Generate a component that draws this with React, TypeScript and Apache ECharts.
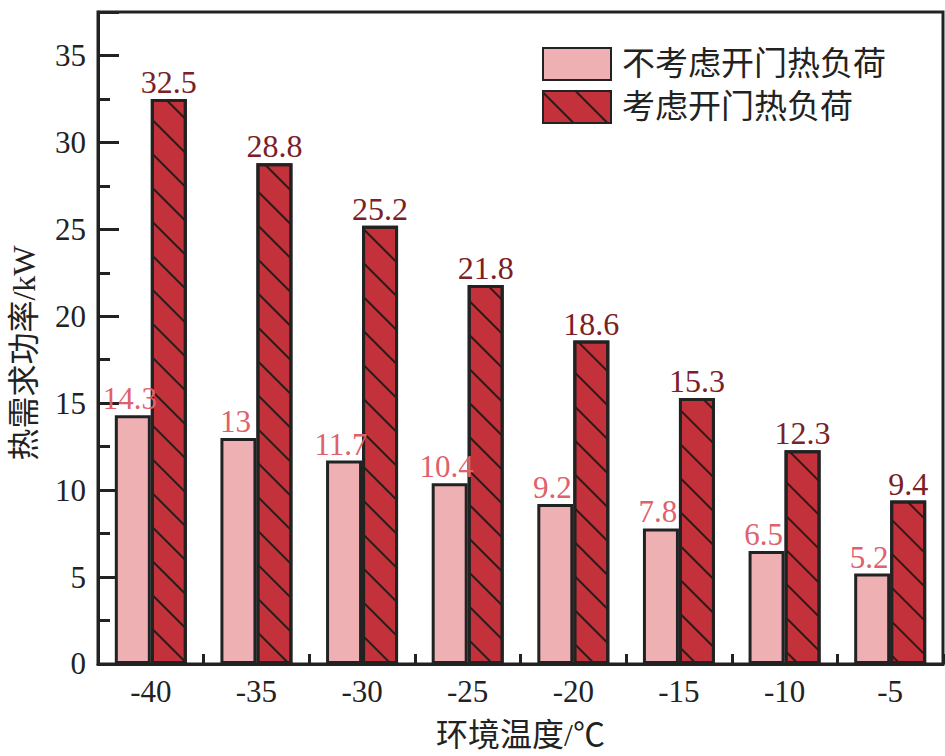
import React, { useEffect, useRef } from "react";
import * as echarts from "echarts";

const categories = ["-40", "-35", "-30", "-25", "-20", "-15", "-10", "-5"];
const withoutDoor = [14.3, 13, 11.7, 10.4, 9.2, 7.8, 6.5, 5.2];
const withDoor = [32.5, 28.8, 25.2, 21.8, 18.6, 15.3, 12.3, 9.4];
const seriesNames = ["不考虑开门热负荷", "考虑开门热负荷"];
const xName = "环境温度/℃";
const yName = "热需求功率/kW";

const FONT = "Liberation Serif, serif, Noto Sans CJK SC";
const AXIS = "#222222";

export default function App() {
  const ref = useRef<HTMLDivElement>(null);
  useEffect(() => {
    if (!ref.current) return;
    const chart = echarts.init(ref.current, null, { renderer: "svg" });
    chart.setOption({
      animation: false,
      backgroundColor: "#ffffff",
      grid: {
        left: 93,
        right: 2,
        top: 12,
        bottom: 92,
        show: true,
        borderColor: AXIS,
        borderWidth: 3,
      },
      legend: {
        orient: "vertical",
        left: 537,
        top: 42,
        itemWidth: 68,
        itemHeight: 32,
        itemGap: 9,
        icon: "rect",
        textStyle: {
          fontFamily: FONT,
          fontSize: 33,
          color: "#222",
          padding: [0, 0, 0, 6],
        },
        data: seriesNames,
      },
      xAxis: {
        type: "category",
        data: categories,
        name: xName,
        nameLocation: "middle",
        nameGap: 55,
        nameTextStyle: { fontFamily: FONT, fontSize: 32, color: "#222" },
        axisLine: { show: true, lineStyle: { color: AXIS, width: 3 } },
        axisTick: {
          show: true,
          inside: true,
          length: 10,
          alignWithLabel: false,
          lineStyle: { color: AXIS, width: 3 },
        },
        axisLabel: {
          fontFamily: FONT,
          fontSize: 31,
          color: "#222",
          margin: 12,
        },
      },
      yAxis: {
        type: "value",
        min: 0,
        max: 37.5,
        interval: 5,
        name: yName,
        nameLocation: "middle",
        nameGap: 58,
        nameTextStyle: {
          fontFamily: FONT,
          fontSize: 32,
          color: "#222",
          padding: [0, 30, 0, 0],
        },
        splitLine: { show: false },
        axisLine: { show: true, lineStyle: { color: AXIS, width: 3 } },
        axisTick: {
          show: true,
          inside: true,
          length: 21,
          lineStyle: { color: AXIS, width: 3 },
        },
        minorTick: {
          show: true,
          splitNumber: 2,
          length: 12,
          lineStyle: { color: AXIS, width: 3 },
        },
        axisLabel: {
          fontFamily: FONT,
          fontSize: 31,
          color: "#222",
          margin: 12,
          showMaxLabel: false,
        },
      },
      series: [
        {
          name: seriesNames[0],
          type: "bar",
          data: withoutDoor,
          barWidth: 36,
          barGap: "0%",
          itemStyle: {
            color: "#EFB0B3",
            borderColor: AXIS,
            borderWidth: 3,
          },
          label: {
            show: true,
            position: "top",
            distance: 1,
            offset: [-3, 0],
            fontFamily: FONT,
            fontSize: 31,
            color: "#DE616B",
          },
        },
        {
          name: seriesNames[1],
          type: "bar",
          data: withDoor,
          barWidth: 36,
          barGap: "0%",
          itemStyle: {
            color: "#C3313A",
            borderColor: AXIS,
            borderWidth: 3,
            decal: {
              symbol: "rect",
              symbolSize: 1,
              dashArrayX: [1, 0],
              dashArrayY: [1.6, 22],
              rotation: Math.PI / 4,
              color: "#2a1a1a",
            },
          },
          label: {
            show: true,
            position: "top",
            distance: 1,
            fontFamily: FONT,
            fontSize: 32,
            color: "#7A2026",
          },
        },
      ],
    });
    return () => chart.dispose();
  }, []);
  return (
    <div
      ref={ref}
      style={{ position: "absolute", left: 0, top: 0, width: 945, height: 756 }}
    />
  );
}
